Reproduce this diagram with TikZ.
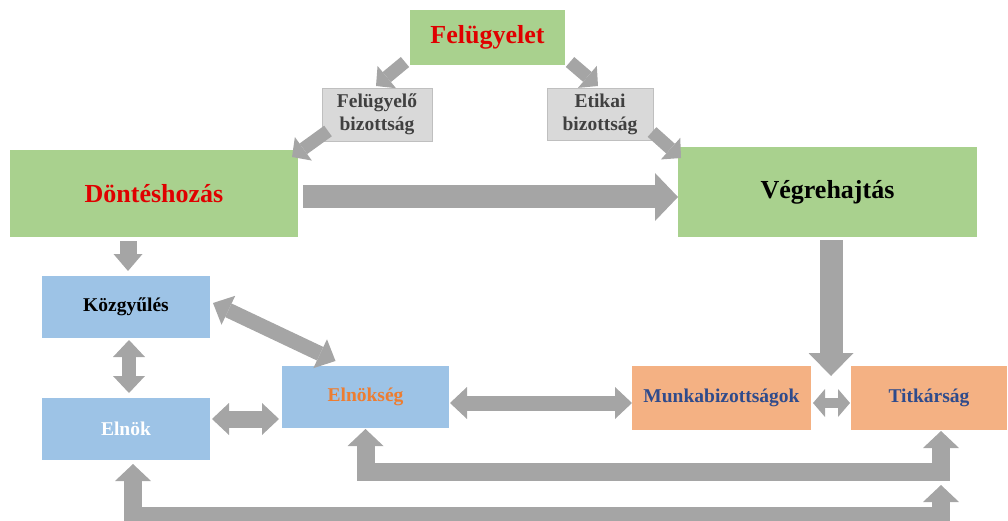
\documentclass[tikz,border=0pt]{standalone}
\usepackage{fontspec}
\setmainfont{Liberation Serif}
\usetikzlibrary{arrows.meta,positioning,calc}
\definecolor{boxgreen}{HTML}{A9D18E}
\definecolor{boxblue}{HTML}{9DC3E6}
\definecolor{boxorange}{HTML}{F4B183}
\definecolor{boxgray}{HTML}{D9D9D9}
\definecolor{linegray}{HTML}{BFBFBF}
\definecolor{arrowgray}{HTML}{A5A5A5}
\definecolor{textorange}{HTML}{ED7D31}
\definecolor{textblue}{HTML}{2F4B8C}
\definecolor{textred}{HTML}{E00000}
\tikzset{every node/.style={font=\bfseries}}
\tikzset{fat/.style n args={3}{draw=arrowgray, line width=#1pt, line join=miter,
  >={Triangle[width=#2pt,length=#3pt,line width=0pt]}}}
\tikzset{box/.style={inner sep=0pt, outer sep=0pt, align=center}}
\tikzset{big/.style={box, fill=boxgreen, font=\fontsize{26}{30}\selectfont\bfseries}}
\tikzset{small/.style={box, font=\fontsize{19.5}{23}\selectfont\bfseries}}
\tikzset{committee/.style={small, fill=boxgray, draw=linegray, line width=0.8pt, text=black!75}}

\begin{document}
\begin{tikzpicture}[x=1pt, y=-1pt]
  \useasboundingbox (0,0) rectangle (1008,521);

    % top level
    \node(fel)  [big, minimum width=155pt, minimum height=55pt, text=textred] at (487.5,37.5) {Felügyelet};
    \node(fbiz) [committee, minimum width=110pt, minimum height=53pt] at (377,114.5) {Felügyelő\\bizottság};
    \node(ebiz) [committee, minimum width=106pt, minimum height=52pt] at (600,114) {Etikai\\bizottság};
    \node(dont) [big, minimum width=288pt, minimum height=87pt, text=textred] at (154,193.5) {Döntéshozás};
    \node(vegr) [big, minimum width=299pt, minimum height=90pt, text=black] at (827.5,192) {Végrehajtás};

    % bodies
    \node(kozgy)  [small, fill=boxblue, minimum width=168pt, minimum height=62pt, text=black] at (126,307) {Közgyűlés};
    \node(elnok)  [small, fill=boxblue, minimum width=168pt, minimum height=62pt, text=white] at (126,429) {Elnök};
    \node(elnseg) [small, fill=boxblue, minimum width=167pt, minimum height=62pt, text=textorange] at (365.5,397) {Elnökség};
    \node(munka)  [small, fill=boxorange, minimum width=179pt, minimum height=64pt, text=textblue] at (721.5,398) {Munkabizottságok};
    \node(titk)   [small, fill=boxorange, minimum width=156pt, minimum height=64pt, text=textblue] at (929,398) {Titkárság};

    \draw [->][fat={13}{29}{14}] ([shift={(-5,-3)}]fel.south west) -- ([shift={(-1,-2)}]fbiz.north);
    \draw [->][fat={13}{29}{14}] ([shift={(5,-3)}]fel.south east) -- ([shift={(-2,-2)}]ebiz.north);
    \draw [->][fat={13}{29}{14}] ([shift={(6,-10)}]fbiz.south west) -- ([shift={(-6,7)}]dont.north east);
    \draw [->][fat={13}{29}{14}] ([shift={(-1,-8)}]ebiz.south east) -- ([shift={(3,11)}]vegr.north west);
    \draw [->][fat={23}{48}{23}] ([shift={(5,3.5)}]dont.east) -- ([shift={(0,5)}]vegr.west);

    \draw [->][fat={17}{29}{17}] ([shift={(-26,4)}]dont.south) -- ([shift={(2,-5)}]kozgy.north);
    \draw [<->][fat={14}{32}{17}] ([shift={(3,2)}]kozgy.south) -- ([shift={(3,-5)}]elnok.north);
    \draw [<->][fat={15}{32}{17}] ([shift={(3,-4)}]kozgy.east) -- ([shift={(-30,-5)}]elnseg.north);
    \draw [<->][fat={17}{32}{17}] ([shift={(2,-10)}]elnok.east) -- ([shift={(-3,22)}]elnseg.west);
    \draw [<->][fat={15}{32}{17}] ([shift={(1,6)}]elnseg.east) -- ([shift={(0,5)}]munka.west);
    \draw [<->][fat={10}{28}{12}] ([shift={(2,5)}]munka.east) -- ([shift={(-1,5)}]titk.west);

    \coordinate(gap) at ($(munka.north east)!.5!(titk.north west)+(0,10)$);
    \draw [->][fat={23}{45}{23}] ($(gap |- vegr.south)+(0,3)$) -- (gap);

    \draw [<->][fat={18}{36}{17}] ([shift={(0,1)}]elnseg.south) -- ++(0,43) -| ([shift={(12,1)}]titk.south);
    \draw [<->][fat={18}{36}{17}] ([shift={(7,4)}]elnok.south) -- ++(0,52) -| ([shift={(12,55)}]titk.south);

  \end{tikzpicture}
\end{document}
